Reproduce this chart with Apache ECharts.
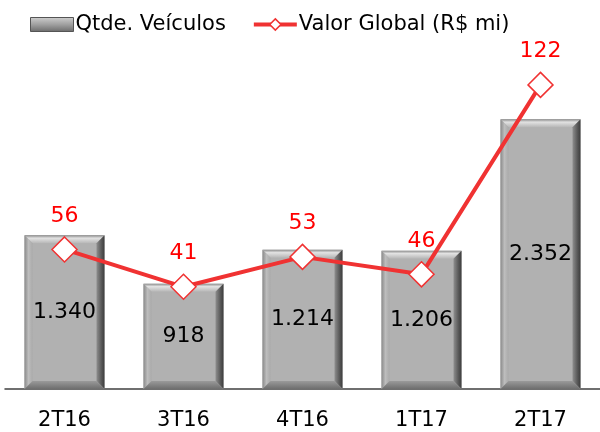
<!DOCTYPE html>
<html><head><meta charset="utf-8">
<script src="https://cdn.jsdelivr.net/npm/echarts@6/dist/echarts.min.js"></script>
<style>html,body{margin:0;padding:0;background:#fff}#c{width:600px;height:432px}</style>
</head><body><div id="c"></div>
<script>
const categories = ['2T16','3T16','4T16','1T17','2T17'];
const qtdeVeiculos = [1340, 918, 1214, 1206, 2352];
const valorGlobal = [56, 41, 53, 46, 122];
const fmtBR = v => v >= 1000 ? Math.floor(v/1000) + '.' + String(v%1000).padStart(3,'0') : String(v);
const FONT = 'DejaVu Sans';
const chart = echarts.init(document.getElementById('c'));
const LG = echarts.graphic.LinearGradient;
function renderBevelBar(params, api){
  const idx = api.value(0), val = api.value(1);
  const top = api.coord([idx, val]);
  const base = api.coord([idx, 0]);
  const w = 80, b = 8;
  const x0 = top[0] - w/2, x1 = top[0] + w/2, y0 = top[1], y1 = base[1];
  return {
    type:'group',
    children:[
      {type:'rect',shape:{x:x0,y:y0,width:w,height:y1-y0},style:{fill:'#b1b1b1'}},
      {type:'polygon',shape:{points:[[x0,y0],[x1,y0],[x1-b,y0+b],[x0+b,y0+b]]},
        style:{fill:new LG(0,0,0,1,[{offset:0,color:'#8c8c8c'},{offset:0.35,color:'#e2e2e2'},{offset:1,color:'#b6b6b6'}])}},
      {type:'polygon',shape:{points:[[x0,y0],[x0+b,y0+b],[x0+b,y1-b],[x0,y1]]},
        style:{fill:new LG(0,0,1,0,[{offset:0,color:'#8a8a8a'},{offset:0.5,color:'#bdbdbd'},{offset:1,color:'#aaaaaa'}])}},
      {type:'polygon',shape:{points:[[x1,y0],[x1,y1],[x1-b,y1-b],[x1-b,y0+b]]},
        style:{fill:new LG(0,0,1,0,[{offset:0,color:'#8e8e8e'},{offset:0.6,color:'#5a5a5a'},{offset:1,color:'#3c3c3c'}])}},
      {type:'polygon',shape:{points:[[x0,y1],[x0+b,y1-b],[x1-b,y1-b],[x1,y1]]},
        style:{fill:new LG(0,0,0,1,[{offset:0,color:'#9a9a9a'},{offset:1,color:'#6e6e6e'}])}},
      {type:'text',x:top[0],y:(y0+y1)/2,style:{text:fmtBR(val),fontFamily:FONT,fontSize:22,fill:'#000',align:'center',verticalAlign:'middle'}}
    ]
  };
}
chart.setOption({
  animation:false,
  textStyle:{fontFamily:FONT},
  legend:{
    top:9, left:25, itemGap:26, itemWidth:43, itemHeight:14,
    textStyle:{fontFamily:FONT,fontSize:21,color:'#000',padding:[0,0,0,-3]},
    data:[
      {name:'Qtde. Veículos',icon:'rect',itemStyle:{color:new LG(0,0,0,1,[{offset:0,color:'#d0d0d0'},{offset:0.5,color:'#a0a0a0'},{offset:1,color:'#6a6a6a'}]),borderColor:'#555',borderWidth:1}},
      {name:'Valor Global (R$ mi)',lineStyle:{width:4,color:'#f03232'},itemStyle:{color:'#fff',borderColor:'#f03232',borderWidth:1.5}}
    ]
  },
  grid:{left:5,width:600,top:45,bottom:43},
  xAxis:{type:'category',data:categories,
    axisLine:{lineStyle:{color:'#404040',width:1.5}},axisTick:{show:false},
    axisLabel:{fontFamily:FONT,fontSize:21,color:'#000',margin:21}},
  yAxis:[
    {type:'value',min:0,max:3000,show:false},
    {type:'value',min:0,max:138,show:false}
  ],
  series:[
    {name:'Qtde. Veículos',type:'custom',yAxisIndex:0,z:1,
     data:qtdeVeiculos.map((v,i)=>[i,v]),
     encode:{x:0,y:1},
     itemStyle:{color:'#a8a8a8'},
     renderItem:renderBevelBar},
    {name:'Valor Global (R$ mi)',type:'line',data:valorGlobal,yAxisIndex:1,z:5,
     symbol:'diamond',symbolSize:25,
     lineStyle:{color:'#f03232',width:4},
     itemStyle:{color:'#fff',borderColor:'#f03232',borderWidth:1.5},
     label:{show:true,position:'top',distance:9,fontFamily:FONT,fontSize:22,color:'#ff0000'}}
  ]
});
</script></body></html>
